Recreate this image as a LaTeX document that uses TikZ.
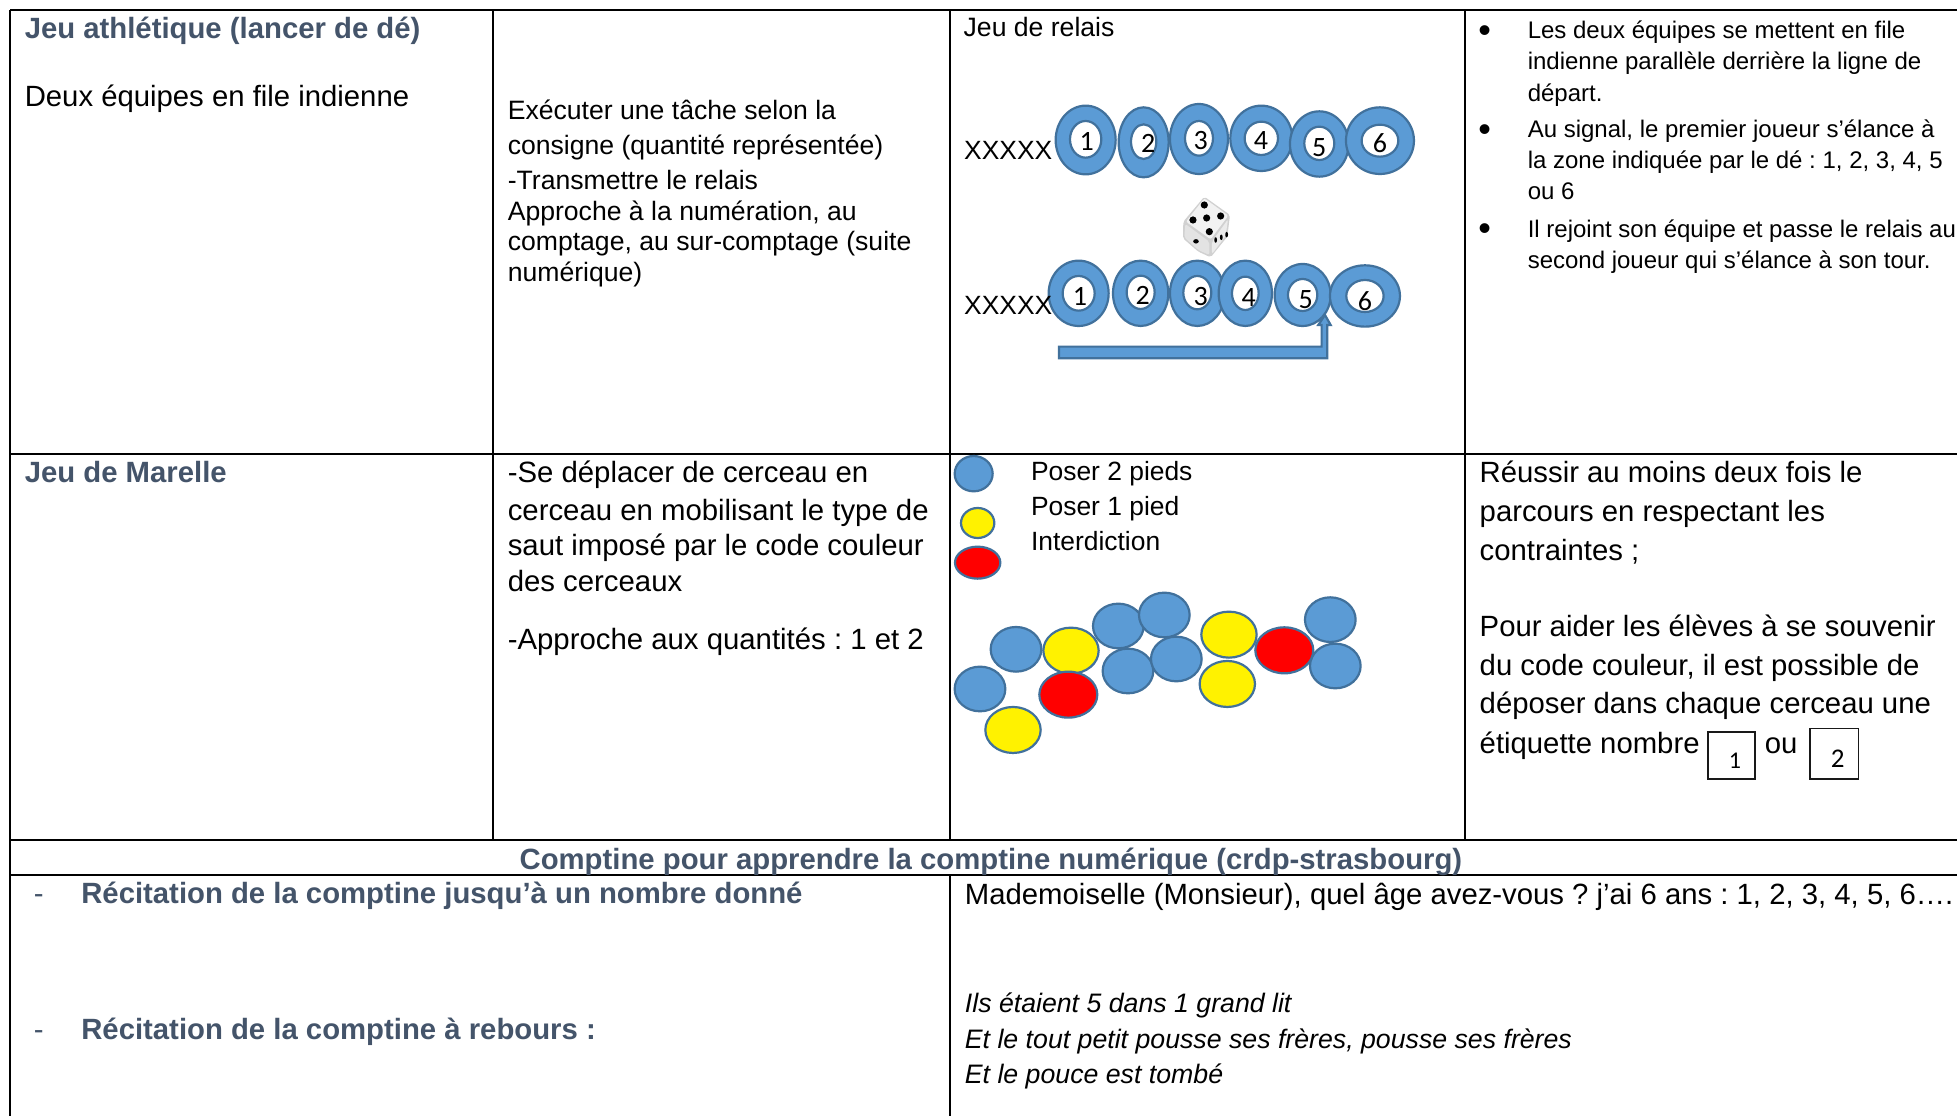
\documentclass[tikz,border=0pt]{standalone}
\usepackage{fontspec}
\setmainfont{Liberation Sans}
\newfontfamily\calib{Carlito}
\frenchspacing
\definecolor{headblue}{HTML}{44546A}
\definecolor{shapeblue}{HTML}{5B9BD5}
\definecolor{edgeblue}{HTML}{41719C}
\tikzset{
  txt/.style={anchor=base west,inner sep=0pt,text=black,font=\fontsize{#1}{#1}\selectfont},
  txt/.default=26.4,
  head/.style={anchor=base west,inner sep=0pt,text=headblue,font=\fontsize{#1}{#1}\selectfont\bfseries},
  head/.default=29.3,
  digit/.style={anchor=base,inner sep=0pt,text=black,font=\fontsize{28}{28}\selectfont\calib},
  rule/.style={line width=2pt,black},
  hoop/.style={draw=edgeblue,line width=2.2pt,fill=#1},
  hoop/.default=shapeblue,
  ital/.style={anchor=base west,inner sep=0pt,text=black,font=\fontsize{26.7}{26.7}\selectfont\itshape},
}
% ring: cx cy rx ry | hole cx cy rx ry | digit node (zoom coordinates)
\newcommand{\ringshape}[9]{%
  \path[hoop] (#1,#2) ellipse [x radius={#3/3*1pt},y radius={#4/3*1pt}];
  \path[hoop=white] (#5,#6) ellipse [x radius={#7/3*1pt},y radius={#8/3*1pt}];
  #9
}
\newcommand{\disc}[5]{\path[hoop=#5] (#1,#2) ellipse [x radius={#3/3*1pt},y radius={#4/3*1pt}];}
\begin{document}
\begin{tikzpicture}[x=1pt,y=-1pt]
\useasboundingbox (0,0) rectangle (1957,1116);
\fill[white] (0,0) rectangle (1957,1116);
% table rules
\begin{scope}
\clip (0,0) rectangle (1957,1116);
\draw[rule] (10,10) -- (1957,10);
\draw[rule] (10,453.5) -- (1957,453.5);
\draw[rule] (10,840) -- (1957,840);
\draw[rule] (10,874.5) -- (1957,874.5);
\draw[rule] (10,10) -- (10,1116);
\draw[rule] (493,10) -- (493,840);
\draw[rule] (950,10) -- (950,840);
\draw[rule] (950,874.5) -- (950,1116);
\draw[rule] (1465,10) -- (1465,840);
\end{scope}
% relay rings
\begin{scope}[shift={(950,80)},x=0.3333pt,y=-0.3333pt]
\ringshape{407}{180}{90}{103}{407}{178}{47}{55}{\node[digit] (ra1) at (410,212) {1};}
\ringshape{581}{187}{75}{105}{581}{185}{38}{52}{\node[digit] (ra2) at (595,218) {2};}
\ringshape{747}{177}{87}{105}{747}{175}{42}{52}{\node[digit] (ra3) at (752,210) {3};}
\ringshape{934}{175}{93}{98}{934}{175}{50}{50}{\node[digit] (ra4) at (933,210) {4};}
\ringshape{1108}{192}{88}{98}{1108}{190}{45}{50}{\node[digit] (ra5) at (1108,229) {5};}
\ringshape{1290}{182}{102}{100}{1290}{182}{55}{48}{\node[digit] (ra6) at (1290,219) {6};}
\ringshape{386}{640}{90}{98}{386}{640}{48}{52}{\node[digit] (rb1) at (390,678) {1};}
\ringshape{572}{640}{83}{98}{572}{637}{42}{50}{\node[digit] (rb2) at (578,674) {2};}
\ringshape{742}{640}{82}{98}{742}{638}{42}{50}{\node[digit] (rb3) at (752,678) {3};}
\ringshape{886}{640}{80}{98}{886}{640}{40}{50}{\node[digit] (rb4) at (896,680) {4};}
\ringshape{1058}{645}{84}{93}{1058}{645}{44}{48}{\node[digit] (rb5) at (1067,686) {5};}
\ringshape{1245}{648}{105}{92}{1245}{648}{56}{48}{\node[digit] (rb6) at (1245,691) {6};}
\path[hoop,line join=miter] (327,800) -- (1115,800) -- (1115,735) -- (1105,735) -- (1125,705) -- (1142,735) -- (1132,735) -- (1132,835) -- (327,835) -- cycle;
% die
\fill[black!18,rounded corners=2pt] (763,350) -- (840,405) -- (832,470) -- (782,532) -- (745,515) -- (699,475) -- (700,425) -- cycle;
\fill[black!5,rounded corners=2pt] (763,355) -- (835,407) -- (782,478) -- (708,425) -- cycle;
\fill[black!11,rounded corners=2pt] (706,432) -- (778,485) -- (778,525) -- (745,510) -- (703,472) -- cycle;
\fill[black!8,rounded corners=2pt] (786,485) -- (834,418) -- (827,468) -- (786,522) -- cycle;
\foreach \px/\py in {763/375,729/420,770/414,812/408,778/455}
  \fill[black] (\px,\py) circle [radius=3.6pt];
\fill[black] (738,484) ellipse [x radius=2.8pt,y radius=2.2pt];
\foreach \px/\py in {797/480,814/472,830/464}
  \fill[black] (\px,\py) ellipse [x radius=1.4pt,y radius=2.8pt];
\end{scope}
\node[txt] (xa) at (964,159) {XXXXX};
\node[txt] (xb) at (964,314) {XXXXX};
% hoop discs
\begin{scope}[shift={(950,450)},x=0.3333pt,y=-0.3333pt]
\disc{71}{71}{57}{53}{shapeblue}
\disc{83}{219}{50}{45}{yellow}
\disc{83}{338}{68}{48}{red}
\disc{198}{598}{76}{67}{shapeblue}
\disc{90}{717}{76}{67}{shapeblue}
\disc{189}{840}{83}{69}{yellow}
\disc{363}{602}{83}{69}{yellow}
\disc{355}{734}{87}{69}{red}
\disc{505}{528}{76}{67}{shapeblue}
\disc{643}{495}{76}{67}{shapeblue}
\disc{534}{663}{76}{67}{shapeblue}
\disc{679}{627}{76}{67}{shapeblue}
\disc{837}{554}{83}{69}{yellow}
\disc{832}{702}{83}{69}{yellow}
\disc{1141}{509}{76}{67}{shapeblue}
\disc{1156}{648}{76}{67}{shapeblue}
\disc{1003}{601}{87}{69}{red}
\end{scope}
% digit boxes
\draw[line width=1.6pt,black!90] (1707.7,731.7) rectangle (1754.7,778.7);
\draw[line width=1.6pt,black!90] (1809.7,728.3) rectangle (1858.3,778.7);
\node[digit,font=\fontsize{24}{24}\selectfont\calib] (bx1) at (1735,768) {1};
\node[digit,font=\fontsize{27}{27}\selectfont\calib] (bx2) at (1837.7,767) {2};
% texts in reference display coordinates
\begin{scope}[x=1.248pt,y=-1.248pt]
\node[head] (t1) at (19.7,31) {Jeu athlétique (lancer de dé)};
\node[txt=29.3] (t2) at (19.7,85) {Deux équipes en file indienne};
\node[txt=26.6] (t3) at (406.7,96) {Exécuter une tâche selon la};
\node[txt=26.6] (t4) at (406.7,124) {consigne (quantité représentée)};
\node[txt=26.6] (t5) at (406.7,152) {-Transmettre le relais};
\node[txt=26.6] (t6) at (406.7,177) {Approche à la numération, au};
\node[txt=26.6] (t7) at (406.7,201) {comptage, au sur-comptage (suite};
\node[txt=26.6] (t8) at (406.7,225.3) {numérique)};
\node[txt=26.6] (t9) at (772,29) {Jeu de relais};
\node[txt=36] (b0) at (1184.5,34) {•};
\node[txt=36] (b1) at (1184.5,113) {•};
\node[txt=36] (b2) at (1184.5,193) {•};
\node[txt=24] (u1) at (1224,31) {Les deux équipes se mettent en file};
\node[txt=24] (u2) at (1224,56) {indienne parallèle derrière la ligne de};
\node[txt=24] (u3) at (1224,81) {départ.};
\node[txt=24] (u4) at (1224,110) {Au signal, le premier joueur s’élance à};
\node[txt=24] (u5) at (1224,135) {la zone indiquée par le dé : 1, 2, 3, 4, 5};
\node[txt=24] (u6) at (1224,160) {ou 6};
\node[txt=24] (u7) at (1224,190) {Il rejoint son équipe et passe le relais au};
\node[txt=24] (u8) at (1224,215) {second joueur qui s’élance à son tour.};
\node[head] (m1) at (19.7,386.7) {Jeu de Marelle};
\node[txt=29.35] (m2) at (406.7,386.7) {-Se déplacer de cerceau en};
\node[txt=29.35] (m3) at (406.7,416.7) {cerceau en mobilisant le type de};
\node[txt=29.35] (m4) at (406.7,445.3) {saut imposé par le code couleur};
\node[txt=29.35] (m5) at (406.7,474) {des cerceaux};
\node[txt=29.35] (m6) at (406.7,520.7) {-Approche aux quantités : 1 et 2};
\node[txt] (l1) at (826,385.3) {Poser 2 pieds};
\node[txt] (l2) at (826,413) {Poser 1 pied};
\node[txt] (l3) at (826,441) {Interdiction};
\node[txt=29.3] (r1) at (1185.5,386.3) {Réussir au moins deux fois le};
\node[txt=29.3] (r2) at (1185.5,418) {parcours en respectant les};
\node[txt=29.3] (r3) at (1185.5,449.3) {contraintes ;};
\node[txt=29.3] (r4) at (1185.5,510.3) {Pour aider les élèves à se souvenir};
\node[txt=29.3] (r5) at (1185.5,541.3) {du code couleur, il est possible de};
\node[txt=29.3] (r6) at (1185.5,572) {déposer dans chaque cerceau une};
\node[txt=29.3] (r7) at (1185.5,603.5) {étiquette nombre};
\node[txt=29.3] (r8) at (1414,603.5) {ou};
\node[head,anchor=base] (c0) at (794,697) {Comptine pour apprendre la comptine numérique (crdp-strasbourg)};
\node[head] (d1) at (65,724) {Récitation de la comptine jusqu’à un nombre donné};
\node[head] (d2) at (65,833) {Récitation de la comptine à rebours :};
\node[txt=29.3,text=headblue] (e1) at (27,724) {-};
\node[txt=29.3,text=headblue] (e2) at (27,833) {-};
\node[txt=29.3] (f1) at (773,725) {Mademoiselle (Monsieur), quel âge avez-vous ? j’ai 6 ans : 1, 2, 3, 4, 5, 6….};
\node[ital] (g1) at (773,811) {Ils étaient 5 dans 1 grand lit};
\node[ital] (g2) at (773,840) {Et le tout petit pousse ses frères, pousse ses frères};
\node[ital] (g3) at (773,868) {Et le pouce est tombé};
\end{scope}
\end{tikzpicture}
\end{document}
